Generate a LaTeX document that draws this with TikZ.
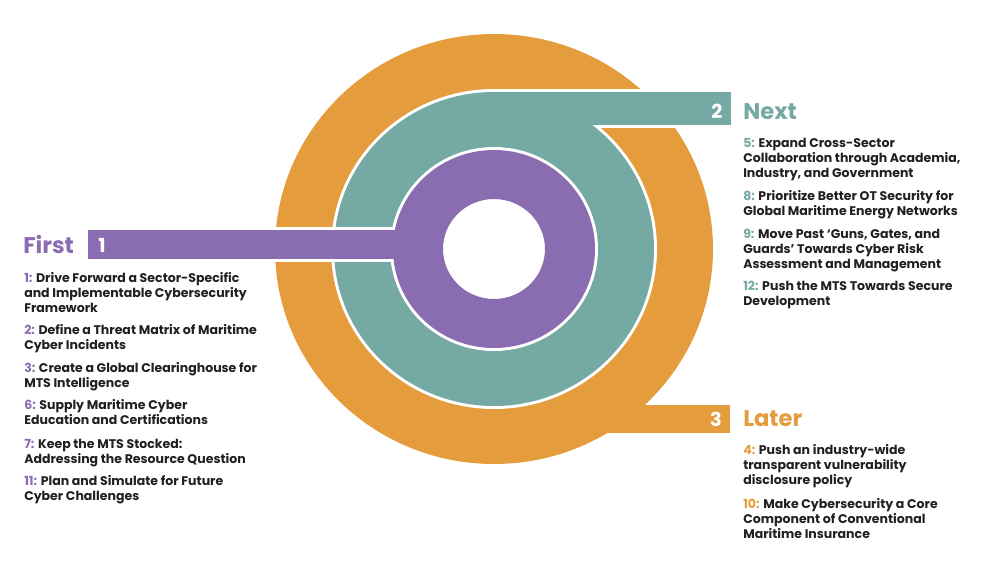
\documentclass[tikz,border=0pt]{standalone}
\usepackage{fontspec}
\setmainfont{Poppins}
\definecolor{orng}{HTML}{E49C3C}
\definecolor{tl}{HTML}{75A9A3}
\definecolor{prp}{HTML}{8A6DB1}
\definecolor{ink}{HTML}{231F20}
\newcommand{\itembox}[1]{\parbox[t]{260pt}{\raggedright #1}}
\tikzset{
  itemtext/.style={anchor=base west, inner sep=0pt, text=ink,
    font=\fontsize{9.4}{11.25}\selectfont\bfseries},
  headtext/.style={anchor=base west, inner sep=0pt, font=\fontsize{17}{19}\selectfont\bfseries},
  digit/.style={inner sep=0pt, text=white, font=\fontsize{14.5}{16}\selectfont\bfseries},
  gap/.style={fill=white, draw=white, line width=4.5pt}
}
\begin{document}
\begin{tikzpicture}[x=0.75pt,y=-0.75pt]
\useasboundingbox (0,0) rectangle (1000,572);
% orange ring
\fill[orng, even odd rule] (494,249) ellipse [x radius=219, y radius=215]
  (494,249) ellipse [x radius=160, y radius=157];
\fill[orng] (560,405) rectangle (730,433);
% teal ring
\path[gap] (494,249) ellipse [x radius=160, y radius=157];
\path[gap] (494,92) rectangle (731,125);
\fill[tl, even odd rule] (494,249) ellipse [x radius=160, y radius=157]
  (494,249) ellipse [x radius=101, y radius=99];
\fill[tl] (494,92) rectangle (731,125);
% purple ring
\path[gap] (494,249) ellipse [x radius=101, y radius=99];
\path[gap] (88,230) rectangle (420,259);
\fill[prp, even odd rule] (494,249) ellipse [x radius=101, y radius=99]
  (494,249) ellipse [x radius=51, y radius=50];
\fill[prp] (88,230) rectangle (420,259);
% digits
\node[digit] (d1) at (102,245) {1};
\node[digit] (d2) at (717,111) {2};
\node[digit] (d3) at (716,419) {3};
% headings
\node[headtext, text=prp] (hfirst) at (23,253) {First};
\node[headtext, text=tl] (hnext) at (743,119) {Next};
\node[headtext, text=orng] (hlater) at (743,426) {Later};
% first items
\node[itemtext] (i1) at (24,282) {\itembox{\textcolor{prp}{1:} Drive Forward a Sector-Specific\\and Implementable Cybersecurity\\Framework}};
\node[itemtext] (i2) at (24,334) {\itembox{\textcolor{prp}{2:} Define a Threat Matrix of Maritime\\Cyber Incidents}};
\node[itemtext] (i3) at (24,372) {\itembox{\textcolor{prp}{3:} Create a Global Clearinghouse for\\MTS Intelligence}};
\node[itemtext] (i6) at (24,409) {\itembox{\textcolor{prp}{6:} Supply Maritime Cyber\\Education and Certifications}};
\node[itemtext] (i7) at (24,448) {\itembox{\textcolor{prp}{7:} Keep the MTS Stocked:\\Addressing the Resource Question}};
\node[itemtext] (i11) at (24,485) {\itembox{\textcolor{prp}{11:} Plan and Simulate for Future\\Cyber Challenges}};
% next items
\node[itemtext] (i5) at (743,147) {\itembox{\textcolor{tl}{5:} Expand Cross-Sector\\Collaboration through Academia,\\Industry, and Government}};
\node[itemtext] (i8) at (743,200) {\itembox{\textcolor{tl}{8:} Prioritize Better OT Security for\\Global Maritime Energy Networks}};
\node[itemtext] (i9) at (743,238) {\itembox{\textcolor{tl}{9:} Move Past ‘Guns, Gates, and\\Guards’ Towards Cyber Risk\\Assessment and Management}};
\node[itemtext] (i12) at (743,290) {\itembox{\textcolor{tl}{12:} Push the MTS Towards Secure\\Development}};
% later items
\node[itemtext] (i4) at (743,454) {\itembox{\textcolor{orng}{4:} Push an industry-wide\\transparent vulnerability\\disclosure policy}};
\node[itemtext] (i10) at (743,508) {\itembox{\textcolor{orng}{10:} Make Cybersecurity a Core\\Component of Conventional\\Maritime Insurance}};
\end{tikzpicture}
\end{document}
